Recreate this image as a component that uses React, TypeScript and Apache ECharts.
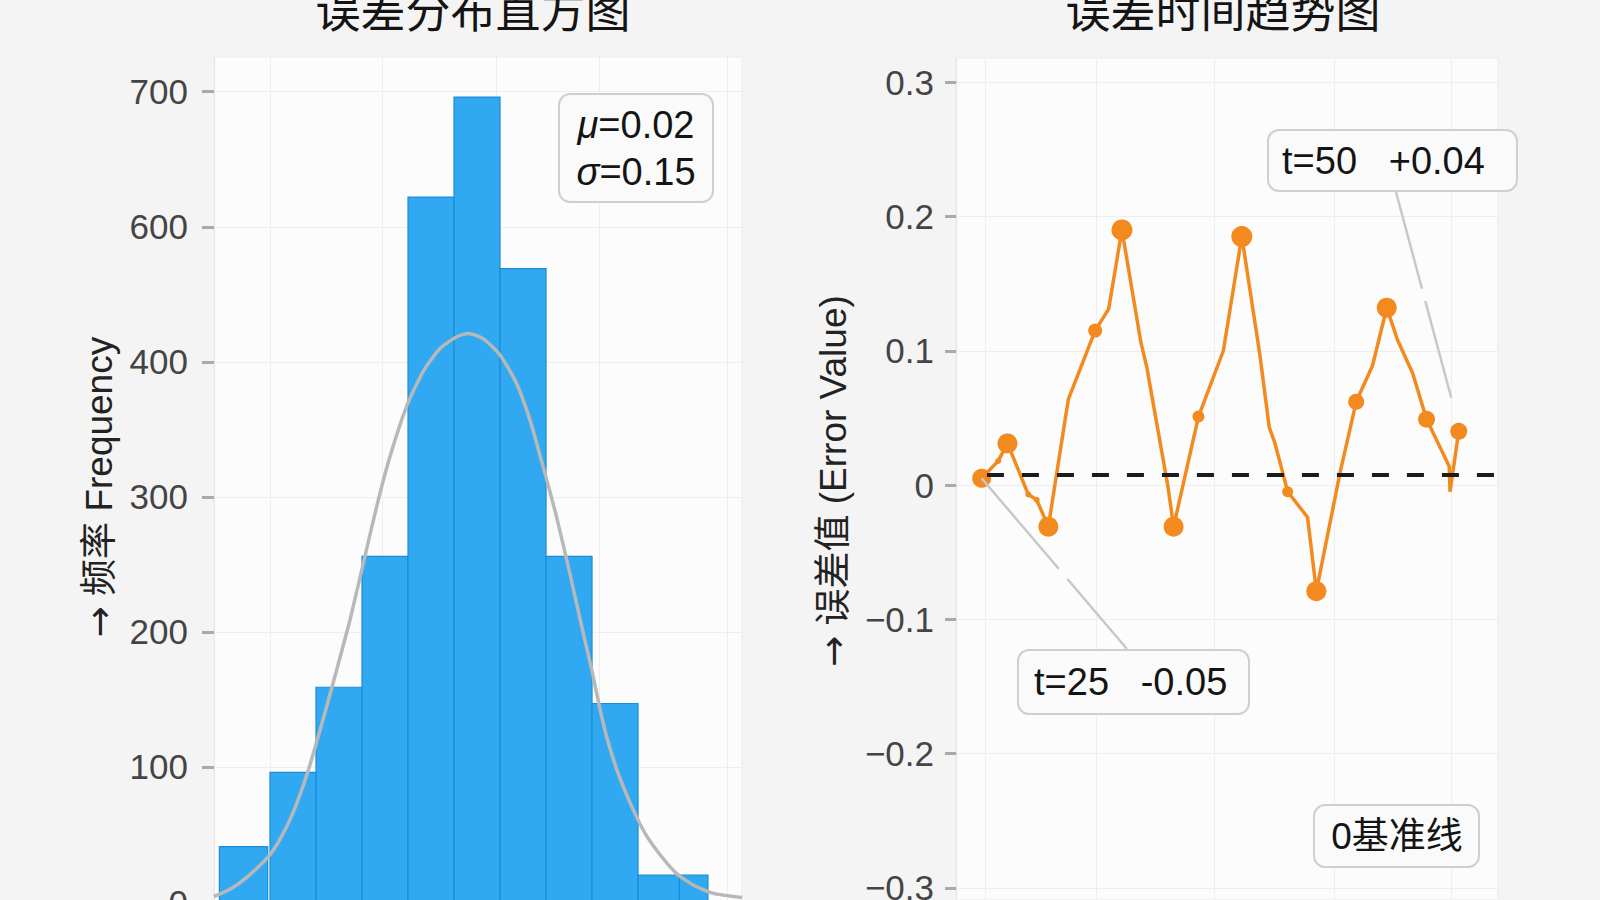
import React, { useEffect, useRef } from "react";
import * as echarts from "echarts";

// ---------------- data ----------------
const histTitle = "误差分布直方图";
const trendTitle = "误差时间趋势图";
const histAxisName = "{a|→} 频率 Frequency";
const trendAxisName = "{a|→} 误差值 (Error Value)";

// histogram bins (error value) and counts
const binStart = [-0.51, -0.4, -0.3, -0.2, -0.1, 0, 0.1, 0.2, 0.3, 0.4, 0.49];
const binEnd = [-0.405, -0.3, -0.2, -0.1, 0, 0.1, 0.2, 0.3, 0.4, 0.49, 0.552];
const binCount = [41, 96, 159, 256, 522, 596, 469, 256, 147, 20, 20];

// fitted normal curve
const curveX = [-0.522, -0.484, -0.448, -0.405, -0.379, -0.35, -0.32, -0.288, -0.255, -0.226, -0.197, -0.168, -0.139, -0.103, -0.067, -0.03, 0.006, 0.031, 0.064, 0.1, 0.136, 0.165, 0.194, 0.223, 0.252, 0.281, 0.3, 0.316, 0.332, 0.357, 0.386, 0.415, 0.448, 0.484, 0.52, 0.564, 0.626];
const curveY = [4, 10, 19, 33, 46, 66, 94, 131, 172, 209, 251, 293, 330, 367, 393, 410, 418.6, 421, 417, 405, 384, 357, 322, 285, 243, 199, 171, 145, 122, 95, 71, 51, 35, 21, 12.6, 6.4, 3.3];

const histTickValues = [0, 100, 200, 300, 400, 500, 600];
const histTickLabels = ["0", "100", "200", "300", "400", "600", "700"];
const histGridX = [-0.399, -0.155, 0.091, 0.316, 0.593];
const histXMin = -0.5217;
const histXMax = 0.626;
const histYMax = 625.7;

const statsText = "{i|μ}=0.02\n{i|σ}=0.15";

// error trend over time
const trendT = [-0.14, 1.62, 2.59, 4.79, 5.68, 6.91, 9.03, 11.86, 13.28, 14.69, 16.7, 17.31, 19.55, 20.15, 22.78, 25.41, 27.36, 29.25, 30.26, 30.87, 32.21, 34.31, 35.24, 37.74, 39.45, 41.18, 42.68, 43.82, 45.43, 46.89, 49.28, 49.37, 50.29];
const trendErr = [0.005, 0.018, 0.031, -0.007, -0.011, -0.031, 0.064, 0.115, 0.131, 0.19, 0.106, 0.088, -0.001, -0.031, 0.051, 0.1, 0.185, 0.098, 0.043, 0.031, -0.005, -0.024, -0.079, 0.009, 0.062, 0.089, 0.132, 0.108, 0.083, 0.049, 0.014, -0.005, 0.04];
const trendDot = [19, 6, 20, 6, 6, 20, 0, 14, 0, 21, 0, 0, 0, 20, 12, 0, 21, 0, 0, 0, 11, 0, 20, 0, 16, 0, 20, 0, 0, 17, 0, 0, 17];

const trendTickValues = [-0.3, -0.2, -0.1, 0, 0.1, 0.2, 0.3];
const trendTickLabels = ["−0.3", "−0.2", "−0.1", "0", "0.1", "0.2", "0.3"];
const trendGridT = [0.2, 12, 24.4, 37.1, 49.5];
const trendXMin = -2.85;
const trendXMax = 54.44;
const trendYMin = -0.309;
const trendYMax = 0.318;

const baselineValue = 0.008;
const baselineStartT = 0.42;

const calloutA = { text: "t=25   -0.05", t: -0.14, v: 0.005 };
const calloutB = { text: "t=50   +0.04", t: 49.5, v: 0.065 };
const baselineNote = "0基准线";

// ---------------- styles ----------------
const FONT = '"Liberation Sans", Arial, "Noto Sans CJK SC", sans-serif';
const CJK = '"Noto Sans CJK SC", "Liberation Sans", sans-serif';
const PAGE_BG = "#f4f4f4";
const PLOT_BG = "#fcfcfc";
const GRID_LINE = "#eeeeee";
const BAR_FILL = "#30a9f2";
const BAR_EDGE = "#1b8dd4";
const CURVE = "#b8b8b8";
const ORANGE = "#f28a1f";
const CALLOUT = "#c8c8c8";

function lookupLabel(values: number[], labels: string[]) {
  return (v: number) => {
    const i = values.findIndex((tv) => Math.abs(tv - v) < 1e-6);
    return i >= 0 ? labels[i] : "";
  };
}

function boxGroup(x: number, y: number, w: number, h: number, textEl: any) {
  return {
    type: "group",
    children: [
      {
        type: "rect",
        shape: { x, y, width: w, height: h, r: 11 },
        style: { fill: "#fafafa", stroke: "#cfcfcf", lineWidth: 2 },
        z: 50,
      },
      { ...textEl, z: 51 },
    ],
  };
}

export default function App() {
  const ref = useRef<HTMLDivElement>(null);

  useEffect(() => {
    document.body.style.margin = "0";
    document.body.style.background = PAGE_BG;
    const chart = echarts.init(ref.current as HTMLDivElement, null, { renderer: "svg" });

    const histData = binStart.map((s, i) => [s, binEnd[i], binCount[i]]);
    const curveData = curveX.map((x, i) => [x, curveY[i]]);
    const trendData = trendT.map((t, i) => ({
      value: [t, trendErr[i]],
      symbolSize: trendDot[i],
    }));

    const option: any = {
      animation: false,
      backgroundColor: PAGE_BG,
      grid: [
        { left: 214, top: 57, width: 528, height: 845, outerBoundsMode: "none", containLabel: false, show: true, backgroundColor: PLOT_BG, borderColor: "#ececec", borderWidth: 1 },
        { left: 956, top: 58, width: 542, height: 842, outerBoundsMode: "none", containLabel: false, show: true, backgroundColor: PLOT_BG, borderColor: "#ececec", borderWidth: 1 },
      ],
      xAxis: [
        {
          gridIndex: 0, type: "value", min: histXMin, max: histXMax,
          axisLine: { show: false, onZero: false }, axisLabel: { show: false },
          axisTick: { show: false, customValues: histGridX },
          splitLine: { show: true, lineStyle: { color: GRID_LINE, width: 1 } },
        },
        {
          gridIndex: 1, type: "value", min: trendXMin, max: trendXMax,
          axisLine: { show: false, onZero: false }, axisLabel: { show: false },
          axisTick: { show: false, customValues: trendGridT },
          splitLine: { show: true, lineStyle: { color: GRID_LINE, width: 1 } },
        },
      ],
      yAxis: [
        {
          gridIndex: 0, type: "value", min: 0, max: histYMax,
          axisLine: { show: true, onZero: false, lineStyle: { color: "#e4e4e4", width: 1 } },
          axisTick: { show: true, length: 12, customValues: histTickValues, lineStyle: { color: "#aaaaaa", width: 3 } },
          axisLabel: {
            customValues: histTickValues,
            formatter: lookupLabel(histTickValues, histTickLabels),
            margin: 26, fontSize: 35, color: "#444444", fontFamily: FONT,
          },
          splitLine: { show: true, lineStyle: { color: GRID_LINE, width: 1 } },
        },
        {
          gridIndex: 1, type: "value", min: trendYMin, max: trendYMax,
          axisLine: { show: true, onZero: false, lineStyle: { color: "#e4e4e4", width: 1 } },
          axisTick: { show: true, length: 11, customValues: trendTickValues, lineStyle: { color: "#aaaaaa", width: 3 } },
          axisLabel: {
            customValues: trendTickValues,
            formatter: lookupLabel(trendTickValues, trendTickLabels),
            margin: 22, fontSize: 35, color: "#444444", fontFamily: FONT,
          },
          splitLine: { show: true, lineStyle: { color: GRID_LINE, width: 1 } },
        },
      ],
      series: [
        {
          type: "custom",
          xAxisIndex: 0,
          yAxisIndex: 0,
          data: histData,
          encode: { x: [0, 1], y: 2 },
          renderItem: (params: any, api: any) => {
            const x0 = api.value(0);
            const x1 = api.value(1);
            const c = api.value(2);
            const pTop = api.coord([x0, c]);
            const pBot = api.coord([x1, 0]);
            return {
              type: "rect",
              shape: { x: pTop[0], y: pTop[1], width: pBot[0] - pTop[0], height: pBot[1] - pTop[1] },
              style: { fill: BAR_FILL, stroke: BAR_EDGE, lineWidth: 1.2 },
            };
          },
          z: 2,
        },
        {
          type: "line",
          xAxisIndex: 0,
          yAxisIndex: 0,
          data: curveData,
          smooth: 0.2,
          symbol: "none",
          lineStyle: { color: CURVE, width: 3.5 },
          z: 3,
        },
        {
          type: "line",
          xAxisIndex: 1,
          yAxisIndex: 1,
          data: trendData,
          symbol: "circle",
          showSymbol: true,
          showAllSymbol: true,
          lineStyle: { color: ORANGE, width: 3.5 },
          itemStyle: { color: ORANGE },
          z: 3,
          markLine: {
            silent: true,
            symbol: ["none", "none"],
            label: { show: false },
            lineStyle: { type: [17, 18], color: "#1c1c1c", width: 4 },
            data: [
              [
                { coord: [baselineStartT, baselineValue] },
                { coord: [trendXMax, baselineValue] },
              ],
            ],
          },
        },
      ],
    };

    chart.setOption(option);

    const px = (t: number, v: number) =>
      chart.convertToPixel({ gridIndex: 1 } as any, [t, v]) as number[];
    const a = px(calloutA.t, calloutA.v);
    const b = px(calloutB.t, calloutB.v);

    const seg = (x1: number, y1: number, x2: number, y2: number, f0: number, f1: number) => ({
      type: "line",
      shape: {
        x1: x1 + (x2 - x1) * f0, y1: y1 + (y2 - y1) * f0,
        x2: x1 + (x2 - x1) * f1, y2: y1 + (y2 - y1) * f1,
      },
      style: { stroke: CALLOUT, lineWidth: 2.5 },
      z: 40,
    });

    const aEnd = [1127, 649];
    const bStart = [1396, 192];
    const arrowRich = { a: { fontFamily: '"DejaVu Sans", sans-serif', fontSize: 37, fill: "#222222" } };

    const graphic: any[] = [
      {
        type: "text", x: 473, y: 8, z: 60,
        style: { text: histTitle, fontSize: 45, fontFamily: CJK, fill: "#141414", align: "center", verticalAlign: "middle" },
      },
      {
        type: "text", x: 1223, y: 8, z: 60,
        style: { text: trendTitle, fontSize: 45, fontFamily: CJK, fill: "#141414", align: "center", verticalAlign: "middle" },
      },
      {
        type: "text", x: 99, y: 487, rotation: Math.PI / 2, z: 60,
        style: { text: histAxisName, rich: arrowRich, fontSize: 37, fontFamily: FONT, fill: "#222222", align: "center", verticalAlign: "middle" },
      },
      {
        type: "text", x: 833, y: 481, rotation: Math.PI / 2, z: 60,
        style: { text: trendAxisName, rich: arrowRich, fontSize: 37, fontFamily: FONT, fill: "#222222", align: "center", verticalAlign: "middle" },
      },
      boxGroup(559, 94, 154, 108, {
        type: "text", x: 636, y: 148,
        style: {
          text: statsText, fontSize: 38, lineHeight: 47, fontFamily: FONT, fill: "#141414",
          align: "center", verticalAlign: "middle",
          rich: { i: { fontStyle: "italic", fontSize: 38, lineHeight: 47, fontFamily: FONT, fill: "#141414" } },
        },
      }),
      seg(a[0], a[1], aEnd[0], aEnd[1], 0, 0.53),
      seg(a[0], a[1], aEnd[0], aEnd[1], 0.59, 1),
      seg(bStart[0], bStart[1], b[0], b[1], 0, 0.47),
      seg(bStart[0], bStart[1], b[0], b[1], 0.53, 1),
      boxGroup(1268, 130, 249, 61, {
        type: "text", x: 1282, y: 161,
        style: { text: calloutB.text, fontSize: 38, fontFamily: FONT, fill: "#141414", align: "left", verticalAlign: "middle" },
      }),
      boxGroup(1018, 650, 231, 64, {
        type: "text", x: 1034, y: 682,
        style: { text: calloutA.text, fontSize: 38, fontFamily: FONT, fill: "#141414", align: "left", verticalAlign: "middle" },
      }),
      boxGroup(1314, 805, 165, 62, {
        type: "text", x: 1397, y: 836,
        style: { text: baselineNote, fontSize: 37, fontFamily: FONT, fill: "#141414", align: "center", verticalAlign: "middle" },
      }),
    ];

    chart.setOption({ graphic });

    return () => {
      chart.dispose();
    };
  }, []);

  return <div ref={ref} style={{ width: 1600, height: 900, overflow: "hidden" }} />;
}
